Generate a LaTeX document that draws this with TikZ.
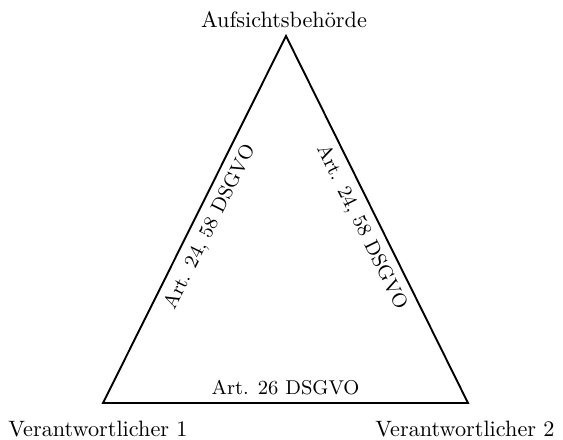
\documentclass[tikz,border=0pt]{standalone}
\usepackage{fontspec}
\begin{document}
\begin{tikzpicture}[x=0.45pt,y=-0.45pt,
  tri/.style={line width=0.85pt, line join=miter},
  lbl/.style={font=\normalsize, inner sep=3.33pt},
  elbl/.style={font=\small, inner sep=3.33pt}]
\useasboundingbox (0,0) rectangle (563,439);
\coordinate (T) at (286,36);
\coordinate (BL) at (103,403);
\coordinate (BR) at (468,403);
\node[lbl, anchor=base] (ab) at (284,28) {Aufsichtsbehörde};
\node[lbl, anchor=base] (v1) at (98,436) {Verantwortlicher 1};
\node[lbl, anchor=base] (v2) at (465,436) {Verantwortlicher 2};
\draw[tri] (BL) -- node[elbl, midway, sloped, below] (e1) {Art. 24, 58 DSGVO} (T)
  -- node[elbl, midway, sloped, below] (e2) {Art. 24, 58 DSGVO} (BR)
  -- node[elbl, midway, above] (e3) {Art. 26 DSGVO} (BL) -- cycle;
\end{tikzpicture}
\end{document}
